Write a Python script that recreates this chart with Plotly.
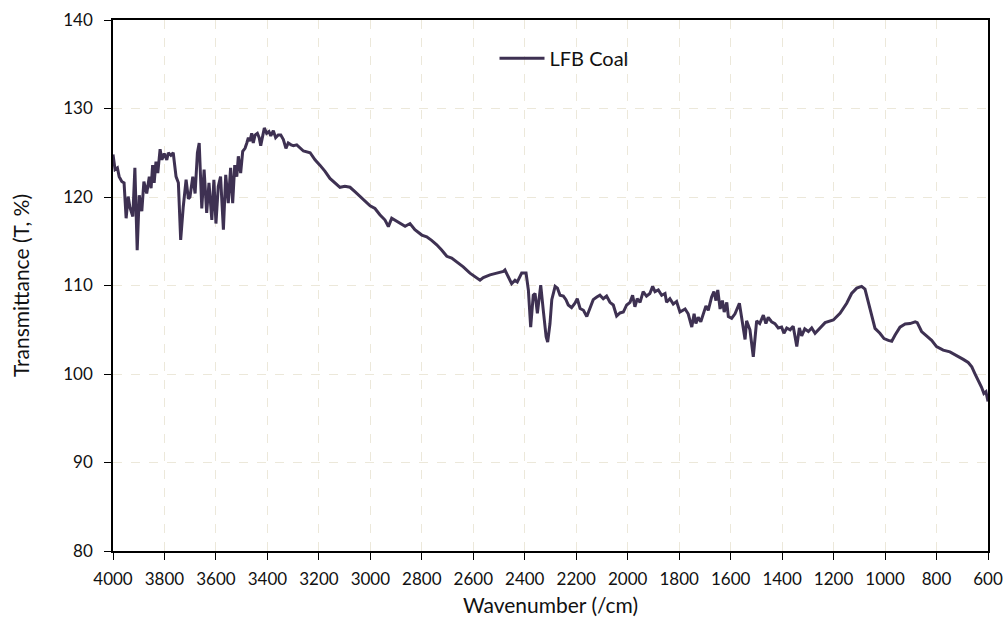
import plotly.graph_objects as go

# FTIR spectrum of LFB coal: wavenumber (cm^-1) and transmittance (%)
wavenumber = [
    4000, 3992, 3983, 3976, 3966, 3957, 3949, 3941, 3934, 3923, 3915, 3906, 3898,
    3888, 3880, 3869, 3859, 3852, 3846, 3840, 3833, 3826, 3817, 3810, 3801, 3791,
    3785, 3775, 3766, 3755, 3746, 3737, 3727, 3716, 3707, 3701, 3690, 3681, 3672,
    3665, 3655, 3646, 3636, 3627, 3616, 3608, 3600, 3591, 3582, 3571, 3562, 3552,
    3543, 3535, 3527, 3519, 3513, 3504, 3496, 3487, 3480, 3474, 3468, 3461, 3455,
    3448, 3439, 3432, 3426, 3418, 3412, 3403, 3394, 3387, 3377, 3368, 3358, 3348,
    3338, 3328, 3319, 3308, 3299, 3286, 3273, 3260, 3234, 3215, 3196, 3176, 3157,
    3137, 3118, 3099, 3079, 3060, 3040, 3021, 3001, 2982, 2963, 2943, 2930, 2917,
    2898, 2878, 2865, 2846, 2827, 2800, 2781, 2762, 2742, 2723, 2703, 2684, 2665,
    2639, 2613, 2587, 2574, 2561, 2535, 2509, 2483, 2477, 2464, 2451, 2438, 2429,
    2412, 2395, 2386, 2377, 2367, 2360, 2351, 2338, 2328, 2317, 2311, 2302, 2295,
    2282, 2273, 2263, 2250, 2240, 2231, 2218, 2205, 2196, 2185, 2172, 2159, 2146,
    2134, 2120, 2108, 2095, 2082, 2069, 2056, 2043, 2030, 2017, 2004, 1991, 1981,
    1972, 1963, 1952, 1940, 1927, 1914, 1903, 1894, 1881, 1868, 1855, 1849, 1836,
    1823, 1810, 1797, 1777, 1765, 1751, 1742, 1735, 1726, 1716, 1706, 1696, 1687,
    1674, 1665, 1657, 1650, 1641, 1632, 1625, 1615, 1609, 1596, 1583, 1566, 1557,
    1544, 1538, 1525, 1512, 1499, 1487, 1473, 1463, 1454, 1441, 1428, 1415, 1402,
    1393, 1382, 1369, 1357, 1343, 1333, 1324, 1312, 1298, 1285, 1272, 1253, 1233,
    1201, 1175, 1149, 1130, 1110, 1091, 1078, 1065, 1052, 1039, 1020, 1004, 987,
    974, 961, 942, 922, 903, 883, 875, 858, 839, 819, 800, 774, 748, 722, 696,
    677, 663, 651, 638, 625, 616, 608, 600,
]

transmittance = [
    124.8, 123.1, 123.3, 122.3, 121.75, 121.6, 117.6, 120.05, 118.8, 117.8, 123.3, 114.0, 120.2,
    118.4, 121.75, 120.4, 122.3, 121.0, 123.6, 121.6, 124.0, 122.7, 125.4, 124.2, 124.9, 124.2,
    125.0, 124.7, 125.0, 122.3, 121.6, 115.15, 118.9, 121.95, 119.8, 120.0, 122.3, 120.4, 125.0,
    126.1, 118.7, 123.1, 118.2, 121.6, 117.4, 121.95, 117.0, 121.2, 122.3, 116.3, 122.5, 119.3,
    123.3, 119.3, 123.6, 122.3, 124.6, 122.7, 125.15, 125.5, 126.1, 126.7, 126.3, 127.2, 126.1,
    127.0, 127.2, 126.7, 125.8, 127.2, 127.8, 127.2, 127.4, 126.9, 127.5, 126.7, 127.0, 127.0,
    126.5, 125.5, 126.1, 125.9, 125.8, 125.9, 125.5, 125.2, 125.0, 124.2, 123.6, 122.9, 122.1,
    121.6, 121.1, 121.2, 121.1, 120.6, 120.05, 119.5, 119.0, 118.7, 118.0, 117.4, 116.65, 117.6,
    117.3, 117.0, 116.7, 117.0, 116.3, 115.7, 115.5, 115.1, 114.6, 114.0, 113.3, 113.1, 112.7,
    112.1, 111.4, 110.8, 110.6, 110.9, 111.2, 111.4, 111.6, 111.75, 111.0, 110.2, 110.6, 110.4,
    111.4, 111.4, 109.5, 105.3, 108.9, 109.1, 106.85, 110.05, 107.2, 104.2, 103.6, 105.7, 108.4,
    109.9, 109.7, 108.9, 108.8, 108.4, 107.8, 107.5, 108.0, 108.5, 107.4, 107.2, 106.5, 107.6,
    108.4, 108.7, 108.9, 108.5, 108.8, 108.1, 107.8, 106.55, 106.9, 107.0, 107.8, 108.1, 108.9,
    107.6, 108.5, 108.1, 109.3, 108.8, 109.1, 109.9, 109.3, 109.5, 108.9, 109.1, 108.1, 108.5,
    107.9, 108.2, 107.0, 107.35, 106.8, 105.3, 106.8, 105.7, 106.4, 105.9, 106.85, 107.7, 107.2,
    108.7, 109.3, 108.3, 109.5, 107.35, 108.3, 107.0, 108.1, 106.5, 106.3, 106.8, 108.0, 106.4,
    103.9, 106.0, 105.0, 101.95, 106.0, 105.7, 106.65, 105.7, 106.4, 105.9, 105.7, 105.2, 105.3,
    104.6, 105.2, 105.0, 105.4, 103.1, 105.2, 104.3, 105.1, 104.8, 105.2, 104.6, 105.2, 105.8,
    106.1, 106.85, 108.0, 109.1, 109.7, 109.9, 109.6, 108.0, 106.5, 105.15, 104.6, 104.0, 103.8,
    103.7, 104.4, 105.3, 105.65, 105.7, 105.9, 105.8, 104.8, 104.3, 103.8, 103.1, 102.7, 102.5, 102.1, 101.65,
    101.3, 100.8, 100.05, 99.3, 98.5, 97.8, 98.0, 96.9,
]

x_ticks = list(range(4000, 599, -200))
y_ticks = [80, 90, 100, 110, 120, 130, 140]

FONT = "Lato, 'Open Sans', sans-serif"
GRID = "#ECE8DA"

fig = go.Figure()
fig.add_trace(go.Scatter(
    x=wavenumber, y=transmittance, mode="lines", name="LFB Coal",
    line=dict(color="#3E3152", width=3), showlegend=True,
))

fig.update_layout(
    width=1005, height=625,
    margin=dict(l=113, r=17, t=20, b=74, autoexpand=False),
    paper_bgcolor="white", plot_bgcolor="white",
    font=dict(family=FONT, size=17, color="#111111"),
    showlegend=True,
    legend=dict(x=0.436, y=0.928, xanchor="left", yanchor="middle",
                bgcolor="rgba(0,0,0,0)", font=dict(size=20, family=FONT),
                itemwidth=45),
    xaxis=dict(
        range=[4000, 600], tickvals=x_ticks, ticktext=[str(v) for v in x_ticks],
        showgrid=True, gridcolor=GRID, griddash="dash", gridwidth=1.2,
        showline=True, linecolor="black", linewidth=1.6, mirror=True,
        ticks="outside", ticklen=7, tickcolor="black", tickwidth=1.2,
        ticklabelstandoff=5,
        tickfont=dict(size=17), zeroline=False, automargin=False,
        title=dict(text="Wavenumber (/cm)", font=dict(size=21), standoff=10),
    ),
    yaxis=dict(
        range=[80, 140], tickvals=y_ticks,
        showgrid=True, gridcolor=GRID, griddash="dash", gridwidth=1.2,
        showline=True, linecolor="black", linewidth=1.6, mirror=True,
        ticks="outside", ticklen=7, tickcolor="black", tickwidth=1.2,
        ticklabelstandoff=8,
        tickfont=dict(size=17), zeroline=False, automargin=False,
        title=dict(text="Transmittance (T, %)", font=dict(size=21), standoff=28),
    ),
)

fig.write_html("out.html")
